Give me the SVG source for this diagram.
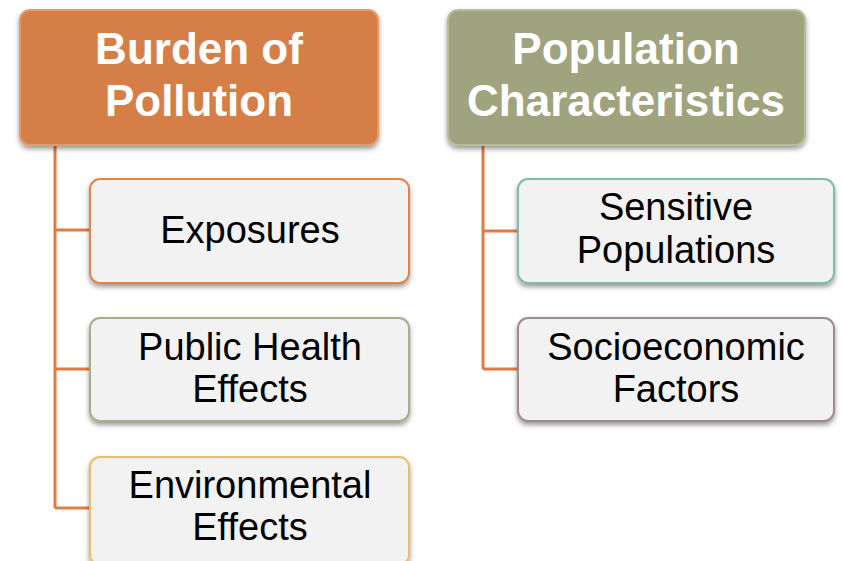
<svg xmlns="http://www.w3.org/2000/svg" width="842" height="561" viewBox="0 0 842 561">
<defs>
<filter id="sh" x="-10%" y="-10%" width="120%" height="130%">
<feDropShadow dx="0" dy="3" stdDeviation="2.5" flood-color="#000" flood-opacity="0.4"/>
</filter>
</defs>
<style>
.hd{stroke-width:2;filter:url(#sh)}
.ht{font-family:"Liberation Sans",Arial,sans-serif;font-weight:bold;font-size:44px;fill:#fff;text-anchor:middle}
.bx{fill:#f2f2f2;stroke-width:2;filter:url(#sh)}
.bt{font-family:"Liberation Sans",Arial,sans-serif;font-size:38px;fill:#000;text-anchor:middle}
.cn{fill:none;stroke:#e07b42;stroke-width:3}
</style>
<rect width="842" height="561" fill="#fff"/>
<g id="connectors">
<path class="cn" d="M55 145V508M55 230H90M55 369H90M55 508H90"/>
<path class="cn" d="M483 145V369M483 231H518M483 369H518"/>
</g>
<g id="burden">
<rect class="hd" x="20" y="10" width="358" height="135" rx="10" fill="#d67e47" stroke="#e69a66"/>
<text class="ht" x="199" y="64">Burden of</text>
<text class="ht" x="199" y="116">Pollution</text>
</g>
<g id="population">
<rect class="hd" x="448" y="10" width="357" height="135" rx="10" fill="#a0a47e" stroke="#b9bc9a"/>
<text class="ht" x="626" y="64">Population</text>
<text class="ht" x="626" y="116">Characteristics</text>
</g>
<g id="exposures">
<rect class="bx" x="90" y="179" width="319" height="104" rx="10" stroke="#e0844c"/>
<text class="bt" x="250" y="243">Exposures</text>
</g>
<g id="publichealth">
<rect class="bx" x="90" y="318" width="319" height="103" rx="10" stroke="#a9ae86"/>
<text class="bt" x="250" y="360">Public Health</text>
<text class="bt" x="250" y="402">Effects</text>
</g>
<g id="environmental">
<rect class="bx" x="90" y="457" width="319" height="108" rx="10" stroke="#e6bf6e"/>
<text class="bt" x="250" y="498">Environmental</text>
<text class="bt" x="250" y="540">Effects</text>
</g>
<g id="sensitive">
<rect class="bx" x="518" y="179" width="316" height="104" rx="10" stroke="#7fbcab"/>
<text class="bt" x="676" y="220">Sensitive</text>
<text class="bt" x="676" y="263">Populations</text>
</g>
<g id="socioeconomic">
<rect class="bx" x="518" y="318" width="316" height="103" rx="10" stroke="#9c8c8c"/>
<text class="bt" x="676" y="360">Socioeconomic</text>
<text class="bt" x="676" y="402">Factors</text>
</g>
</svg>
